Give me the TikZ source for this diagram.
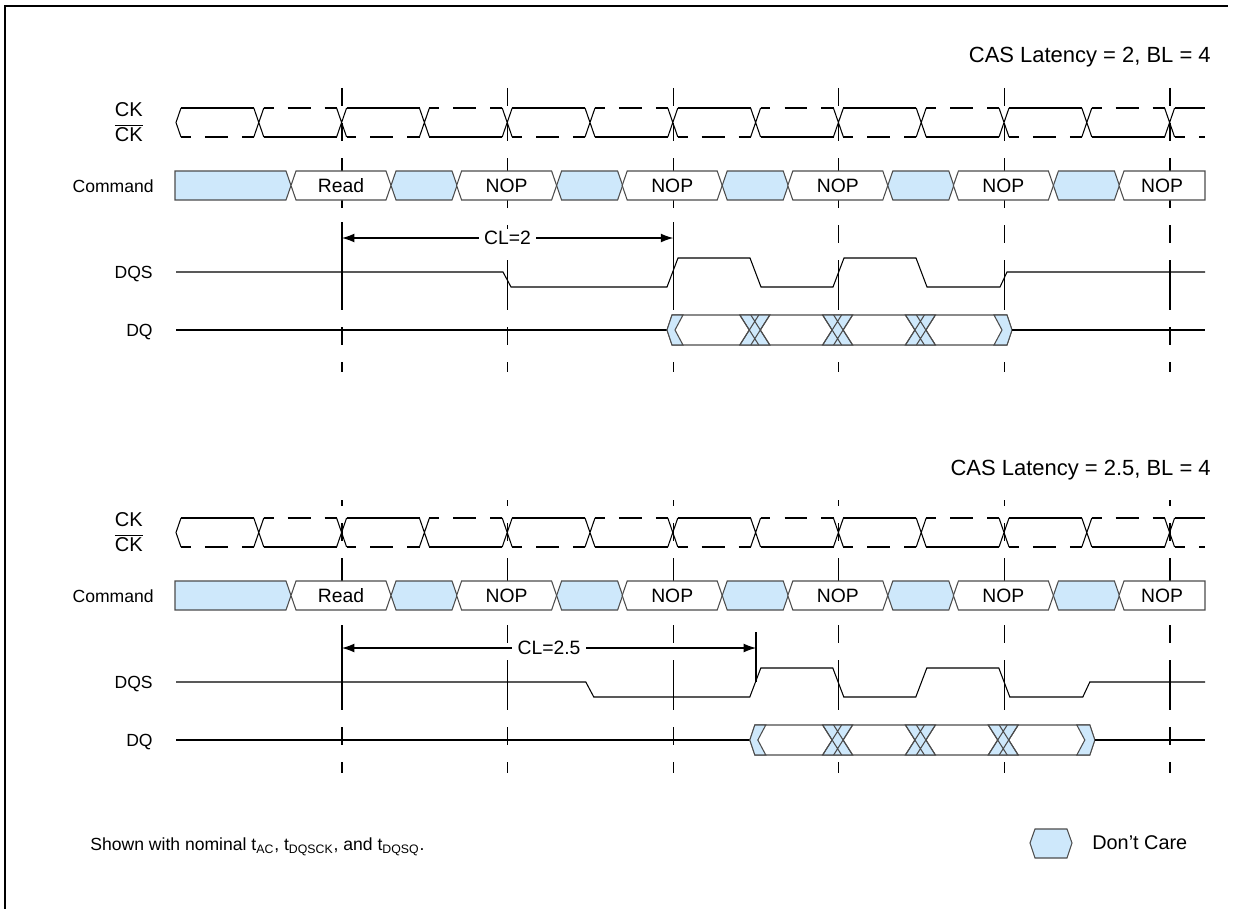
\documentclass[tikz,border=0pt]{standalone}
\usepackage{fontspec}
\setmainfont{Liberation Sans}
\usepackage{tikz}
\usetikzlibrary{positioning,arrows.meta}
\definecolor{dcblue}{RGB}{206,232,251}
\definecolor{busgray}{rgb}{0.3,0.3,0.3}

\begin{document}
\begin{tikzpicture}[x=0.02cm, y=-0.02cm, font=\fontsize{10}{12}\selectfont,
wave/.style={line width=0.6pt},
ckdash/.style={wave, dash pattern=on 13pt off 8pt, dash phase=7.4pt},
clkedge/.style={line width=0.6pt, dash pattern=on 28.5pt off 9.7pt on 10.2pt off 9.7pt},
bus/.style={draw=busgray, line width=0.6pt, fill=white},
dontcare/.style={bus, fill=dcblue},
siglabel/.style={anchor=base east, inner sep=0pt},
optext/.style={font=\fontsize{11}{13}\selectfont},
latency/.style={line width=0.6pt, {Latex[length=7pt,width=5pt]}-{Latex[length=7pt,width=5pt]}}]

\useasboundingbox (0,0) rectangle (1247,909);
\draw[line width=0.8pt] (5,909) -- (5,6) -- (1228,6);

\foreach \i/\dy/\d/\lat/\ty/\ya/\yb/\ph in {1/0/0/2/62.5/88/372/18.2pt, 2/410/82.8/2.5/65.5/90/363/25pt} {
\begin{scope}[shift={(0,\dy)}]
% names of the signals
\node[siglabel, font=\fontsize{12.5}{15}\selectfont] (title\i) at (1211,\ty) {CAS Latency = \lat, BL = 4};
\node[siglabel, font=\fontsize{11.4}{13}\selectfont] (ck\i) at (143,116.5) {CK};
\node[siglabel, font=\fontsize{11.4}{13}\selectfont] (ckb\i) at (143,141.5) {$\overline{\mbox{CK}}$};
\node[siglabel] (cmd\i) at (154,192) {Command};
\node[siglabel] (dqs\i) at (153,278.5) {DQS};
\node[siglabel] (dq\i) at (153,336.5) {DQ};

% clock edges
\foreach \k in {0,...,5}
  \draw[clkedge, dash phase=\ph] (342+165.6*\k,\ya) -- (342+165.6*\k,\yb);

% CK and CK#
\draw[wave] (181,108) -- (176,122.5) -- (181,137);
\foreach \n in {0,2,...,10} {
  \draw[wave] (181+82.8*\n,108) -- (254+82.8*\n,108);
  \draw[ckdash] (181+82.8*\n,137) -- (254+82.8*\n,137);
}
\foreach \n in {1,3,...,11} {
  \draw[ckdash] (181+82.8*\n,108) -- (254+82.8*\n,108);
  \draw[wave] (181+82.8*\n,137) -- (254+82.8*\n,137);
}
\draw[wave] (1175,108) -- (1205,108);
\draw[ckdash] (1175,137) -- (1205,137);
\foreach \n in {1,...,12}
  \draw[wave] (171+82.8*\n,108) -- (181+82.8*\n,137) (171+82.8*\n,137) -- (181+82.8*\n,108);

% command bus
\draw[dontcare] (175,171) -- (286,171) -- (291,185.5) -- (286,200) -- (175,200) -- cycle;
\foreach \k/\op in {0/Read,1/NOP,2/NOP,3/NOP,4/NOP} {
  \pgfmathsetmacro\cx{341+165.6*\k}
  \draw[bus] (\cx-50,185.5) -- (\cx-45,171) -- (\cx+45,171) -- (\cx+50,185.5) -- (\cx+45,200) -- (\cx-45,200) -- cycle;
  \draw[dontcare] (\cx+50,185.5) -- (\cx+55,171) -- (\cx+111,171) -- (\cx+116,185.5) -- (\cx+111,200) -- (\cx+55,200) -- cycle;
  \node[optext] (op\i\k) at (\cx,186) {\op};
}
\draw[bus] (1119,185.5) -- (1124,171) -- (1205,171) -- (1205,200) -- (1124,200) -- cycle;
\node[optext] (op\i5) at (1162,186) {NOP};

% latency
\draw[wave] (342,222) -- (342,272) (673.2+\d,222) -- (673.2+\d,272);
\coordinate (clA\i) at (342,238);
\coordinate (clB\i) at (673.2+\d,238);
\draw[latency] (clA\i) -- (clB\i) node[midway, optext, fill=white, inner xsep=3pt, inner ysep=1pt] (cl\i) {CL=\lat};

% DQS
\draw[wave] (176,272) -- (503+\d,272) -- (511+\d,287) -- (667+\d,287) -- (678+\d,258) -- (750+\d,258)
  -- (761+\d,287) -- (833+\d,287) -- (844+\d,258) -- (916+\d,258) -- (927+\d,287) -- (1000+\d,287)
  -- (1007+\d,272) -- (1205,272);

% DQ
\draw[wave] (176,330) -- (667+\d,330);
\draw[bus] (667+\d,330) -- (672+\d,315) -- (1007+\d,315) -- (1012+\d,330) -- (1007+\d,345) -- (672+\d,345) -- cycle;
\draw[dontcare] (667+\d,330) -- (672+\d,315) -- (683+\d,315) -- (675+\d,330) -- (683+\d,345) -- (672+\d,345) -- cycle;
\foreach \t in {754.8,837.6,920.4} {
  \pgfmathsetmacro\tx{\t+\d}
  \draw[dontcare] (\tx-15,315) -- (\tx+15,315) -- (\tx+5.5,330) -- (\tx+15,345) -- (\tx-15,345) -- (\tx-5.5,330) -- cycle;
  \draw[bus, fill=none] (\tx-15,315) -- (\tx+4,345) (\tx-15,345) -- (\tx+4,315)
    (\tx-4,315) -- (\tx+15,345) (\tx-4,345) -- (\tx+15,315);
}
\draw[dontcare] (994+\d,315) -- (1007+\d,315) -- (1012+\d,330) -- (1007+\d,345) -- (994+\d,345) -- (1002+\d,330) -- cycle;
\draw[wave] (1012+\d,330) -- (1205,330);
\end{scope}
}

% note and legend
\node[anchor=west, inner sep=0pt] (note) at (90,847) {Shown with nominal t\textsubscript{AC}, t\textsubscript{DQSCK}, and t\textsubscript{DQSQ}.};
\draw[dontcare] (1030,843) -- (1035,829) -- (1067,829) -- (1072,843) -- (1067,858) -- (1035,858) -- cycle;
\node[anchor=west, inner sep=0pt, font=\fontsize{11.3}{13}\selectfont] (dc) at (1092,843) {Don't Care};
\end{tikzpicture}
\end{document}
